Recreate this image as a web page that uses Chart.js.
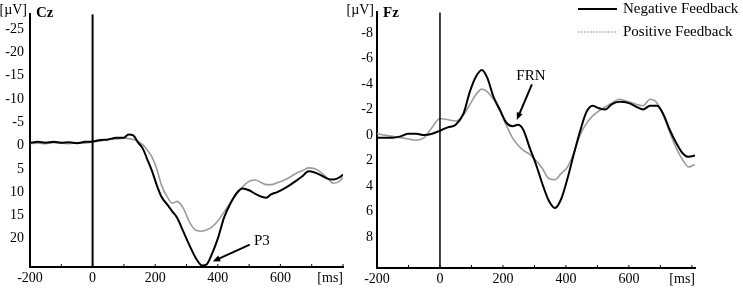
<!DOCTYPE html>
<html>
<head>
<meta charset="utf-8">
<script src="https://cdn.jsdelivr.net/npm/chart.js@4.4.1/dist/chart.umd.min.js"></script>
<style>
  body { margin: 0; background: #fff; }
  #wrap { position: relative; width: 743px; height: 288px; overflow: hidden; }
  #cz { position: absolute; left: 0; top: 0; }
  #fz { position: absolute; left: 345px; top: 0; }
</style>
</head>
<body>
<div id="wrap">
  <canvas id="cz" width="360" height="288"></canvas>
  <canvas id="fz" width="398" height="288"></canvas>
</div>
<script>
// time axis ticks (ms)
const xTicks = [-200, -100, 0, 100, 200, 300, 400, 500, 600, 700, 800];

// Cz panel
const czTimes = [-200, -175, -150, -125, -100, -75, -50, -25, 0, 25, 50, 75, 100, 115, 130, 145, 160, 175, 190, 205, 220, 240, 255, 270, 290, 310, 330, 350, 365, 380, 400, 420, 440, 460, 480, 500, 520, 540, 555, 570, 590, 610, 630, 650, 670, 690, 710, 730, 750, 770, 790, 800];
const czNegative = [-0.6, -0.8, -0.6, -0.8, -0.6, -0.7, -0.5, -0.8, -0.9, -1.2, -1.3, -1.7, -1.7, -2.4, -2.2, -0.7, 0.6, 3.0, 5.5, 8.5, 11.0, 12.8, 14.2, 15.5, 18.5, 21.5, 24.2, 25.8, 25.5, 23.5, 20.0, 15.5, 12.5, 10.2, 9.2, 9.6, 10.4, 11.0, 11.2, 10.5, 10.0, 9.3, 8.5, 7.6, 6.6, 5.5, 5.8, 6.4, 7.1, 7.3, 6.8, 6.2];
const czPositive = [-0.4, -0.5, -0.4, -0.6, -0.5, -0.4, -0.6, -0.5, -0.8, -1.0, -1.3, -1.4, -1.6, -1.5, -1.3, -0.9, -0.2, 1.0, 2.5, 5.0, 8.5, 11.2, 12.4, 12.0, 13.5, 16.5, 18.2, 18.4, 18.1, 17.6, 16.2, 14.3, 12.3, 10.5, 8.8, 7.7, 7.4, 8.0, 8.4, 8.4, 8.0, 7.5, 6.8, 6.0, 5.4, 4.8, 5.0, 5.8, 7.0, 8.1, 7.6, 6.9];
const czYTicks = [-25, -20, -15, -10, -5, 0, 5, 10, 15, 20];

// Fz panel
const fzTimes = [-200, -175, -150, -125, -100, -75, -50, -25, 0, 25, 50, 75, 95, 115, 133, 150, 170, 190, 210, 230, 248, 265, 285, 305, 325, 345, 365, 385, 405, 425, 445, 465, 485, 505, 525, 545, 570, 600, 625, 645, 667, 690, 710, 730, 750, 770, 790, 810];
const fzNegative = [0.2, 0.2, 0.2, 0.1, -0.1, -0.1, 0.0, -0.1, -0.35, -0.6, -0.8, -1.7, -3.4, -4.6, -5.1, -4.5, -3.0, -2.0, -1.0, -0.7, -0.8, -0.4, 1.0, 2.3, 3.8, 5.1, 5.7, 5.0, 3.4, 1.5, -0.3, -1.8, -2.3, -2.1, -2.0, -2.4, -2.6, -2.5, -2.2, -2.0, -2.3, -2.3, -1.6, -0.4, 0.6, 1.4, 1.7, 1.6];
const fzPositive = [-0.1, 0.0, 0.1, 0.2, 0.3, 0.4, 0.2, -0.6, -1.3, -1.2, -1.1, -1.6, -2.4, -3.2, -3.6, -3.4, -2.8, -1.9, -0.8, 0.2, 0.8, 1.2, 1.5, 2.0, 2.6, 3.4, 3.5, 3.0, 2.5, 1.4, 0.0, -0.9, -1.5, -1.9, -2.2, -2.5, -2.8, -2.6, -2.4, -2.3, -2.8, -2.5, -1.5, -0.2, 1.0, 1.9, 2.5, 2.3];
const fzYTicks = [-8, -6, -4, -2, 0, 2, 4, 6, 8];

const seriesNames = ['Negative Feedback', 'Positive Feedback'];

const FONT = "'Liberation Serif', 'Times New Roman', serif";
const BLACK = '#000';
const GRAY = '#9b9b9b';

function toPoints(xs, ys) {
  return xs.map((x, i) => ({ x: x, y: ys[i] }));
}

function arrow(ctx, x1, y1, x2, y2) {
  const a = Math.atan2(y2 - y1, x2 - x1);
  ctx.beginPath();
  ctx.moveTo(x1, y1);
  ctx.lineTo(x2 - 5 * Math.cos(a), y2 - 5 * Math.sin(a));
  ctx.stroke();
  ctx.beginPath();
  ctx.moveTo(x2, y2);
  ctx.lineTo(x2 - 8 * Math.cos(a - 0.4), y2 - 8 * Math.sin(a - 0.4));
  ctx.lineTo(x2 - 8 * Math.cos(a + 0.4), y2 - 8 * Math.sin(a + 0.4));
  ctx.closePath();
  ctx.fill();
}

// zero line, labels, annotation arrows, legend
const extras = {
  id: 'extras',
  afterDatasetsDraw(chart, args, opts) {
    const ctx = chart.ctx;
    const xs = chart.scales.x, ys = chart.scales.y;
    const area = chart.chartArea;
    ctx.save();
    ctx.strokeStyle = BLACK;
    ctx.fillStyle = BLACK;
    // stimulus onset line
    ctx.lineWidth = opts.zeroWidth;
    const x0 = xs.getPixelForValue(0);
    ctx.beginPath();
    ctx.moveTo(x0, area.top);
    ctx.lineTo(x0, area.bottom);
    ctx.stroke();
    // small ticks on time axis
    ctx.lineWidth = 1;
    xTicks.forEach(v => {
      const px = xs.getPixelForValue(v);
      ctx.beginPath();
      ctx.moveTo(px, area.bottom - 3);
      ctx.lineTo(px, area.bottom);
      ctx.stroke();
    });
    // texts
    ctx.textBaseline = 'middle';
    ctx.font = '14px ' + FONT;
    ctx.textAlign = 'right';
    ctx.fillText('[µV]', area.left - 3, 10);
    ctx.fillText('[ms]', area.right, area.bottom + 11);
    ctx.textAlign = 'left';
    ctx.font = 'bold 15px ' + FONT;
    ctx.fillText(opts.title, area.left + 6, 13);
    // annotation
    const a = opts.note;
    ctx.lineWidth = 2;
    arrow(ctx, xs.getPixelForValue(a.tail[0]), ys.getPixelForValue(a.tail[1]),
      xs.getPixelForValue(a.tip[0]), ys.getPixelForValue(a.tip[1]));
    ctx.font = '15px ' + FONT;
    ctx.textAlign = 'center';
    ctx.fillText(a.text, xs.getPixelForValue(a.at[0]), ys.getPixelForValue(a.at[1]));
    // legend
    if (opts.legend) {
      const lx = opts.legend.x;
      ctx.font = '15px ' + FONT;
      ctx.textAlign = 'left';
      ctx.lineWidth = 2;
      ctx.strokeStyle = BLACK;
      ctx.beginPath(); ctx.moveTo(lx, 9); ctx.lineTo(lx + 39, 9); ctx.stroke();
      ctx.fillText(seriesNames[0], lx + 45, 9);
      ctx.lineWidth = 1;
      ctx.strokeStyle = GRAY;
      ctx.setLineDash([2, 1]);
      ctx.beginPath(); ctx.moveTo(lx, 32); ctx.lineTo(lx + 39, 32); ctx.stroke();
      ctx.setLineDash([]);
      ctx.fillText(seriesNames[1], lx + 45, 32);
    }
    ctx.restore();
  }
};

function panel(id, o) {
  return new Chart(document.getElementById(id), {
    type: 'line',
    data: {
      datasets: [{
        label: seriesNames[0],
        data: toPoints(o.times, o.neg),
        borderColor: BLACK,
        borderWidth: 2,
        pointRadius: 0,
        cubicInterpolationMode: 'monotone'
      }, {
        label: seriesNames[1],
        data: toPoints(o.times, o.pos),
        borderColor: GRAY,
        borderWidth: 1.6,
        pointRadius: 0,
        cubicInterpolationMode: 'monotone'
      }]
    },
    options: {
      responsive: false,
      animation: false,
      layout: { padding: { top: 7, right: o.padRight, left: 0, bottom: 0 } },
      plugins: {
        legend: { display: false },
        tooltip: { enabled: false },
        extras: { title: o.title, note: o.note, legend: o.legend, zeroWidth: o.zeroWidth }
      },
      scales: {
        x: {
          type: 'linear',
          min: -200,
          max: o.xMax,
          afterBuildTicks: s => { s.ticks = xTicks.map(v => ({ value: v })); },
          afterFit: s => { s.height = o.xAxisH; },
          ticks: {
            autoSkip: false,
            maxRotation: 0,
            padding: 3,
            color: BLACK,
            font: { family: FONT, size: 14 },
            callback: v => (v % 200 === 0 && v < 800) ? String(v) : ''
          },
          grid: { display: false, drawTicks: false },
          border: { color: BLACK, width: 2 }
        },
        y: {
          reverse: true,
          min: o.yMin,
          max: o.yMax,
          afterBuildTicks: s => { s.ticks = o.yTicks.map(v => ({ value: v })); },
          afterFit: s => { s.width = o.yAxisW; },
          ticks: {
            padding: o.yPad,
            color: BLACK,
            font: { family: FONT, size: 14 },
            callback: v => String(v)
          },
          grid: { display: false, drawTicks: false },
          border: { color: BLACK, width: 2 }
        }
      }
    },
    plugins: [extras]
  });
}

panel('cz', {
  times: czTimes, neg: czNegative, pos: czPositive,
  yMin: -28.2, yMax: 26.1, yTicks: czYTicks, xMax: 800,
  yAxisW: 30, yPad: 6, xAxisH: 21, padRight: 17,
  title: 'Cz', zeroWidth: 2,
  note: { text: 'P3', tip: [384, 24.9], tail: [502, 21.3], at: [541, 20.6] }
});

panel('fz', {
  times: fzTimes, neg: fzNegative, pos: fzPositive,
  yMin: -9.6, yMax: 10.4, yTicks: fzYTicks, xMax: 810,
  yAxisW: 32, yPad: 4, xAxisH: 20, padRight: 48,
  title: 'Fz', zeroWidth: 1.5,
  note: { text: 'FRN', tip: [244, -1.19], tail: [292, -3.96], at: [289, -4.6] },
  legend: { x: 233 }
});
</script>
</body>
</html>
